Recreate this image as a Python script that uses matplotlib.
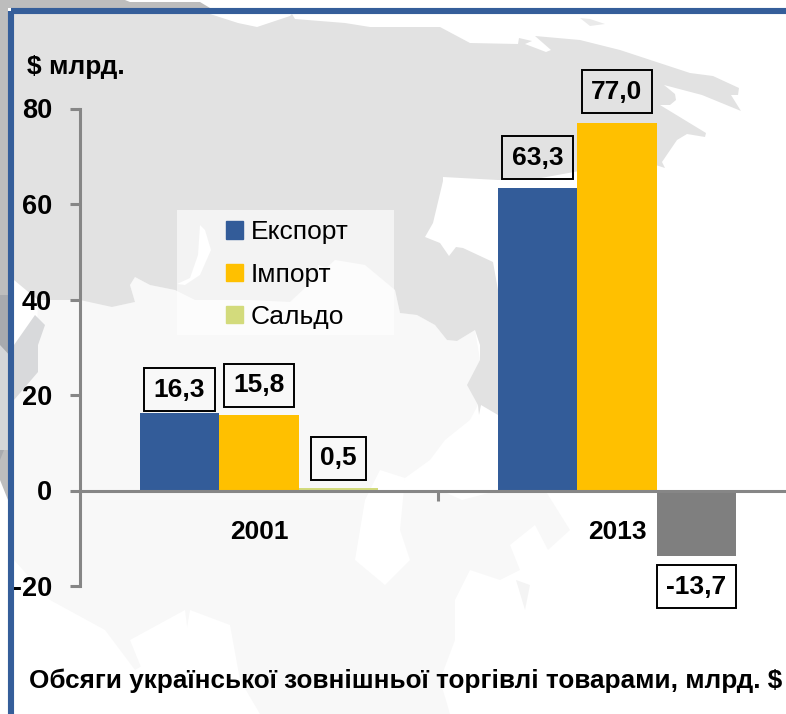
import matplotlib
matplotlib.use("Agg")
import matplotlib.pyplot as plt
from matplotlib.patches import Polygon, Rectangle

plt.rcParams['font.family'] = ['Liberation Sans', 'DejaVu Sans']

# ---- data ----
years = ['2001', '2013']
series_names = ['Експорт', 'Імпорт', 'Сальдо']
export_vals = [16.3, 63.3]
import_vals = [15.8, 77.0]
saldo_vals = [0.5, -13.7]
value_labels = [['16,3', '63,3'], ['15,8', '77,0'], ['0,5', '-13,7']]
y_ticks = [-20, 0, 20, 40, 60, 80]

# ---- styles ----
C_BLUE, C_YEL, C_SAL, C_GREY = '#335C99', '#FFC000', '#D3DB7C', '#7F7F7F'
C_AXIS = '#868686'
LAND = '#E2E2E2'
PALE = '#F8F8F8'
W, H = 786, 714
label_offsets = [[(0, 23), (0, 30.5)], [(0, 30), (0, 31)], [(0, 30), (0, -31)]]

fig = plt.figure(figsize=(W / 100, H / 100), dpi=100, facecolor='white')

# ---- decorative background map, in pixel coordinates ----
bg = fig.add_axes([0, 0, 1, 1], zorder=0)
bg.set_xlim(0, W)
bg.set_ylim(H, 0)
bg.axis('off')


def poly(pts, color, z=1):
    bg.add_patch(Polygon(pts, closed=True, fc=color, ec='none', zorder=z))


# outer strips behind the frame
poly([(0, 0), (125, 0), (130, 2), (200, 2), (210, 8), (0, 8)], '#BDBDBD', 1)
poly([(0, 0), (8, 0), (8, 500), (0, 480)], '#BDBDBD', 1)
poly([(0, 295), (8, 295), (8, 440), (0, 460)], '#A8AAAE', 2)

# pale southern land
poly([(14, 345), (37, 330), (38, 300), (80, 300), (100, 300), (112, 307), (135, 302),
      (130, 285), (135, 277), (150, 285), (175, 290), (195, 300), (250, 300), (290, 302),
      (335, 260), (365, 265), (395, 290), (400, 313), (417, 315), (435, 325), (447, 340),
      (457, 341), (475, 330), (480, 360), (478, 405), (470, 420), (445, 440), (430, 460),
      (405, 478), (400, 490), (440, 490), (462, 500), (500, 490), (545, 490), (570, 530),
      (548, 550), (535, 525), (510, 545), (520, 570), (500, 580), (470, 570), (455, 600),
      (455, 640), (440, 680), (450, 714), (260, 714), (240, 680), (230, 625), (190, 610),
      (185, 640), (135, 670), (105, 630), (50, 600), (14, 560)], PALE, 3)
poly([(0, 450), (14, 450), (14, 360), (0, 345)], '#D5D6D8', 2)
poly([(14, 345), (35, 315), (45, 325), (38, 345), (38, 372), (14, 400)], '#D8D9DB', 4)

# darker northern land
poly([(14, 14), (210, 14), (238, 23), (257, 27), (290, 16), (292, 14), (295, 19),
      (345, 23), (370, 27), (400, 27), (440, 27), (470, 43), (518, 44), (519, 38),
      (532, 41), (525, 44), (546, 52), (551, 50), (535, 36), (580, 40), (620, 50),
      (690, 73), (713, 76), (739, 88), (738, 95), (731, 95), (741, 111), (702, 95),
      (664, 85), (675, 94), (676, 100), (670, 105), (660, 105), (706, 133), (705, 137),
      (687, 134), (677, 140), (662, 162), (665, 168), (640, 160), (530, 180), (498, 180),
      (443, 177), (443, 181), (433, 223), (425, 237), (440, 243), (449, 256), (456, 247),
      (463, 248), (493, 262), (498, 290), (498, 415), (481, 405), (479, 415), (478, 405),
      (467, 385), (480, 360), (480, 345), (475, 330), (457, 341), (447, 340), (435, 325),
      (417, 315), (400, 313), (395, 290), (365, 265), (335, 260), (290, 302), (250, 300),
      (195, 300), (175, 290), (150, 285), (135, 277), (130, 285), (135, 302), (112, 307),
      (80, 300), (38, 300), (14, 280)], LAND, 5)
poly([(200, 225), (205, 230), (211, 250), (200, 275), (185, 285), (177, 284), (190, 278),
      (198, 255)], 'white', 6)
poly([(580, 18), (590, 19), (605, 24), (590, 26)], '#EAEAEA', 6)
poly([(318, 265), (360, 278), (385, 300), (394, 310), (394, 334), (325, 334), (320, 295)],
     PALE, 6)

# white inlets in the pale southern land
poly([(380, 470), (405, 478), (400, 530), (410, 560), (385, 585), (355, 560), (365, 500)],
     'white', 4)
poly([(130, 640), (185, 610), (190, 650), (205, 640), (235, 670), (245, 714), (160, 714)],
     'white', 4)
poly([(516, 580), (525, 610), (530, 585)], '#F4F4F4', 5)

# ---- frame ----
bg.add_patch(Rectangle((10.5, 11), W, H, fc='none', ec='#355E9A', lw=4.4, zorder=8))

# ---- legend panel ----
bg.add_patch(Rectangle((177, 210), 217, 124.5, fc='white', ec='none', alpha=0.6, zorder=7))

# ---- chart ----
left, right = 80 / W, 796 / W
top, bottom = 1 - 108.5 / H, 1 - 586 / H
ax = fig.add_axes([left, bottom, right - left, top - bottom], zorder=2)
ax.patch.set_alpha(0)
ax.set_xlim(-0.5, 1.5)
ax.set_ylim(-20, 80)

bar_w = 79.5 / 358
series = [export_vals, import_vals, saldo_vals]
colors = [[C_BLUE, C_BLUE], [C_YEL, C_YEL], [C_SAL, C_GREY]]
for i, (vals, name, cols) in enumerate(zip(series, series_names, colors)):
    xs = [k + (i - 1) * bar_w for k in range(len(years))]
    ax.bar(xs, vals, width=bar_w, color=cols, label=name, zorder=3)
    for x, v, t, off in zip(xs, vals, value_labels[i], label_offsets[i]):
        ax.annotate(t, (x, v), xytext=off, textcoords='offset pixels', ha='center',
                    va='center', fontsize=19, fontweight='bold', color='black', zorder=5,
                    bbox=dict(boxstyle='square,pad=0.36', fc='none', ec='black', lw=1.4))

for s in ('top', 'right'):
    ax.spines[s].set_visible(False)
ax.spines['left'].set_color(C_AXIS)
ax.spines['left'].set_linewidth(2.2)
ax.spines['bottom'].set_position(('data', 0))
ax.spines['bottom'].set_color(C_AXIS)
ax.spines['bottom'].set_linewidth(2.2)
ax.spines['bottom'].set_zorder(4)

ax.set_yticks(y_ticks)
ax.set_yticklabels([str(v) for v in y_ticks], fontsize=19.5, fontweight='bold')
ax.tick_params(axis='y', length=7, width=2.2, color=C_AXIS, pad=13)
ax.set_xticks(range(len(years)))
ax.set_xticklabels(years, fontsize=19, fontweight='bold')
ax.set_xticks([0.5], minor=True)
ax.tick_params(axis='x', which='major', length=0, pad=21.5)
ax.tick_params(axis='x', which='minor', length=7, width=2.2, color=C_AXIS)

handles, labels = ax.get_legend_handles_labels()
leg = fig.legend(handles, labels, loc='upper left', bbox_to_anchor=(218 / W, 1 - 212.5 / H),
                 bbox_transform=fig.transFigure, frameon=False, fontsize=19,
                 handlelength=0.64, handleheight=0.64, handletextpad=0.3,
                 labelspacing=0.69, borderpad=0.3, borderaxespad=0)
leg.set_zorder(6)
for h, c in zip(leg.legend_handles, [C_BLUE, C_YEL, C_SAL]):
    h.set_color(c)

fig.text(27 / W, 1 - 67 / H, '$ млрд.', fontsize=19, fontweight='bold', va='center',
         ha='left', parse_math=False, zorder=6)
fig.text(29 / W, 1 - 681 / H, 'Обсяги української зовнішньої торгівлі товарами, млрд. $',
         fontsize=18.8, fontweight='bold', va='center', ha='left', parse_math=False, zorder=6)

fig.savefig('out.png', dpi=100, facecolor='white')
